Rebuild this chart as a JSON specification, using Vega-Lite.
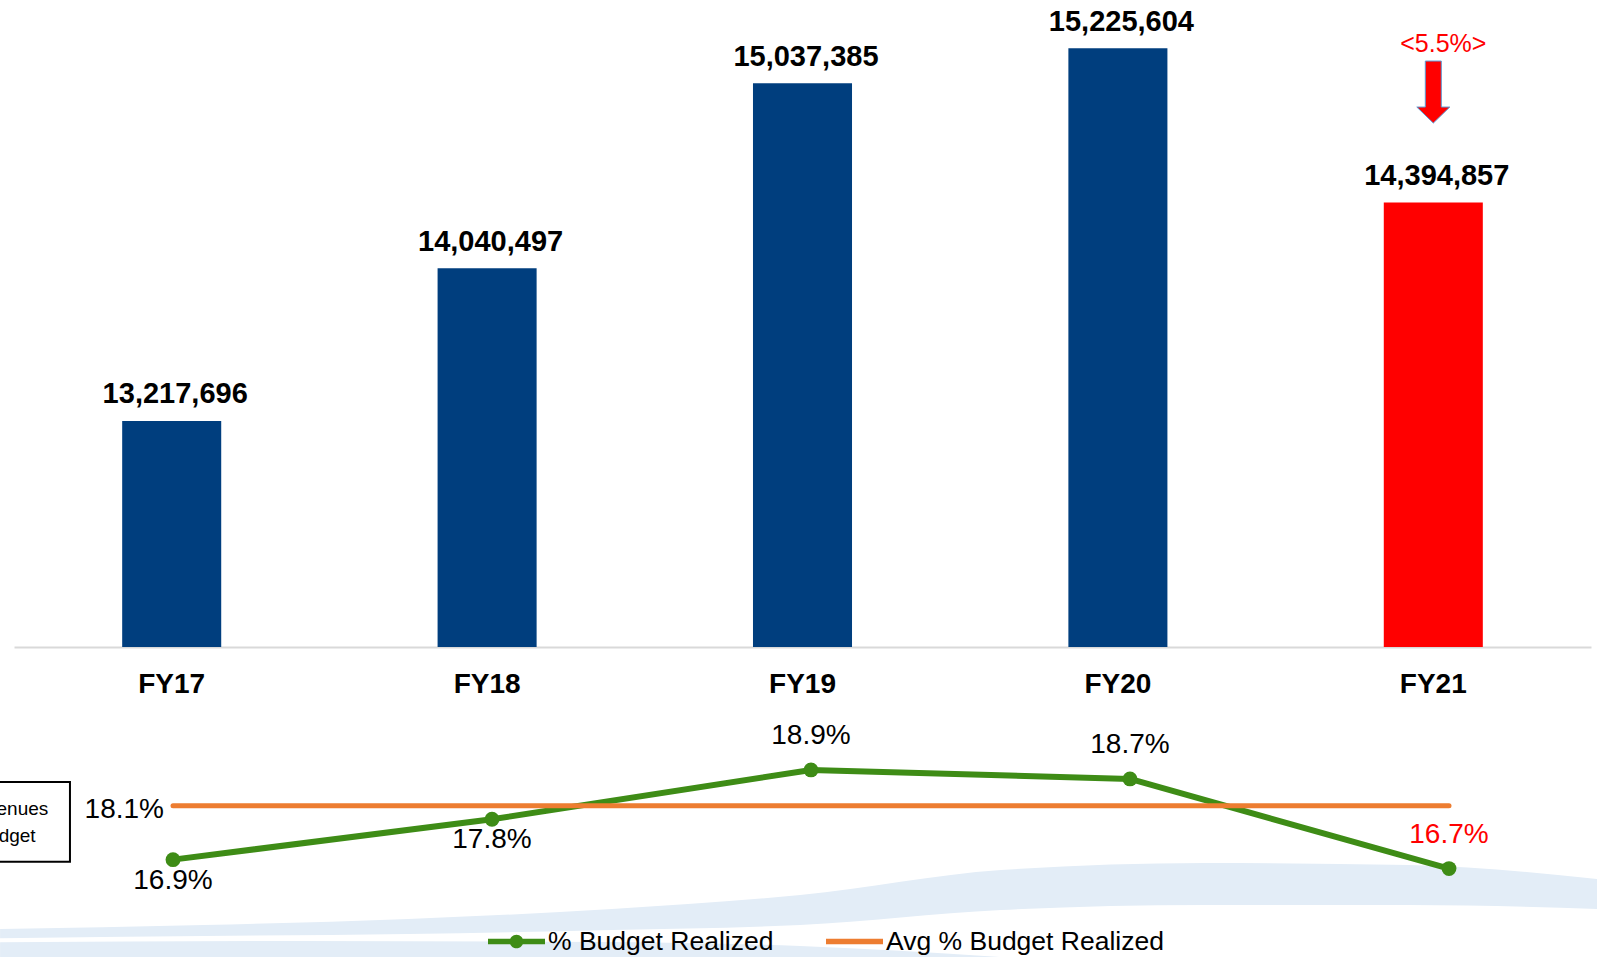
{
  "$schema": "https://vega.github.io/schema/vega-lite/v6.json",
  "padding": 0,
  "background": "white",
  "bounds": "flush",
  "spacing": 96,
  "config": {
    "view": {"stroke": null},
    "font": "Liberation Sans",
    "text": {"font": "Liberation Sans"}
  },
  "datasets": {
    "bars": [
      {"FY": "FY17", "value": 13217696},
      {"FY": "FY18", "value": 14040497},
      {"FY": "FY19", "value": 15037385},
      {"FY": "FY20", "value": 15225604},
      {"FY": "FY21", "value": 14394857}
    ],
    "pct": [
      {"series": "% Budget Realized", "FY": "FY17", "year": 2017, "value": 0.169},
      {"series": "% Budget Realized", "FY": "FY18", "year": 2018, "value": 0.178},
      {"series": "% Budget Realized", "FY": "FY19", "year": 2019, "value": 0.189},
      {"series": "% Budget Realized", "FY": "FY20", "year": 2020, "value": 0.187},
      {"series": "% Budget Realized", "FY": "FY21", "year": 2021, "value": 0.167},
      {"series": "Avg % Budget Realized", "FY": "FY17", "year": 2017, "value": 0.181},
      {"series": "Avg % Budget Realized", "FY": "FY18", "year": 2018, "value": 0.181},
      {"series": "Avg % Budget Realized", "FY": "FY19", "year": 2019, "value": 0.181},
      {"series": "Avg % Budget Realized", "FY": "FY20", "year": 2020, "value": 0.181},
      {"series": "Avg % Budget Realized", "FY": "FY21", "year": 2021, "value": 0.181}
    ],
    "wave1": [
      {"x": 2016.458, "top": 0.15354, "bottom": 0.15150},
      {"x": 2017.097, "top": 0.15443, "bottom": 0.15198},
      {"x": 2017.737, "top": 0.15577, "bottom": 0.15243},
      {"x": 2018.376, "top": 0.15800, "bottom": 0.15332},
      {"x": 2018.966, "top": 0.16112, "bottom": 0.15443},
      {"x": 2019.596, "top": 0.16669, "bottom": 0.15778},
      {"x": 2020.235, "top": 0.16825, "bottom": 0.15889},
      {"x": 2020.875, "top": 0.16781, "bottom": 0.15889},
      {"x": 2021.464, "top": 0.16469, "bottom": 0.15800}
    ],
    "wave2": [
      {"x": 2016.458, "top": 0.15060, "bottom": 0.1473},
      {"x": 2017.398, "top": 0.15087, "bottom": 0.1473},
      {"x": 2018.339, "top": 0.15064, "bottom": 0.1473},
      {"x": 2018.966, "top": 0.14975, "bottom": 0.1473},
      {"x": 2019.592, "top": 0.1473, "bottom": 0.1473}
    ]
  },
  "vconcat": [
    {
      "width": 1597,
      "height": 647,
      "data": {"name": "bars"},
      "encoding": {
        "x": {
          "field": "FY",
          "type": "nominal",
          "sort": null,
          "scale": {"range": [14, 1591], "paddingInner": 0.686, "paddingOuter": 0.343},
          "axis": {
            "title": null,
            "labelAngle": 0,
            "labelFont": "Liberation Sans",
            "labelFontSize": 28,
            "labelFontWeight": "bold",
            "labelColor": "black",
            "ticks": false,
            "tickSize": 0,
            "labelPadding": 23,
            "domainColor": "#d9d9d9",
            "domainWidth": 2
          }
        }
      },
      "layer": [
        {
          "mark": {"type": "bar", "clip": true},
          "encoding": {
            "y": {"field": "value", "type": "quantitative", "scale": {"domain": [12000000, 15486000], "zero": false, "nice": false}, "axis": null},
            "y2": {"datum": 12000000},
            "color": {"condition": {"test": "datum.FY === 'FY21'", "value": "#ff0000"}, "value": "#003e7e"}
          }
        },
        {
          "mark": {"type": "text", "fontSize": 29, "fontWeight": "bold", "dy": -17.6, "dx": 3.5, "baseline": "alphabetic", "align": "center", "color": "black"},
          "encoding": {
            "y": {"field": "value", "type": "quantitative"},
            "text": {"field": "value", "type": "quantitative", "format": ",d"}
          }
        },
        {
          "data": {"values": [{"note": "arrow"}]},
          "mark": {"type": "point", "shape": "M-0.258,-1L0.258,-1L0.258,0.484L0.532,0.484L0,1L-0.532,0.484L-0.258,0.484Z", "size": 3844, "filled": true, "color": "#ff0000", "stroke": "#5b9bd5", "strokeWidth": 1, "opacity": 1},
          "encoding": {
            "x": {"datum": "FY21"},
            "y": {"datum": 14990000}
          }
        },
        {
          "data": {"values": [{"note": "<5.5%>"}]},
          "mark": {"type": "text", "fontSize": 25, "color": "#ff0000", "dx": 10, "baseline": "alphabetic", "align": "center"},
          "encoding": {
            "x": {"datum": "FY21"},
            "y": {"datum": 15207000},
            "text": {"field": "note"}
          }
        }
      ]
    },
    {
      "width": 1597,
      "height": 214,
      "data": {"name": "pct"},
      "layer": [
        {
          "data": {"name": "wave1"},
          "mark": {"type": "area", "interpolate": "monotone", "color": "#e3edf7", "clip": true},
          "encoding": {
            "x": {"field": "x", "type": "quantitative", "scale": {"domain": [2017, 2021], "range": [173, 1449], "zero": false, "nice": false}, "axis": null},
            "y": {"field": "top", "type": "quantitative", "scale": {"domain": [0.1473, 0.195], "zero": false, "nice": false}, "axis": null},
            "y2": {"field": "bottom"}
          }
        },
        {
          "data": {"name": "wave2"},
          "mark": {"type": "area", "interpolate": "monotone", "color": "#e3edf7", "clip": true},
          "encoding": {
            "x": {"field": "x", "type": "quantitative"},
            "y": {"field": "top", "type": "quantitative"},
            "y2": {"field": "bottom"}
          }
        },
        {
          "data": {"values": [{"note": "box"}]},
          "mark": {"type": "rect", "fill": "white", "stroke": "black", "strokeWidth": 2, "clip": true},
          "encoding": {
            "x": {"datum": 2016.30},
            "x2": {"datum": 2016.677},
            "y": {"datum": 0.18631},
            "y2": {"datum": 0.16854}
          }
        },
        {
          "data": {"values": [{"note": "box"}]},
          "mark": {"type": "text", "fontSize": 19, "lineHeight": 27, "align": "center", "baseline": "alphabetic", "color": "black", "clip": true},
          "encoding": {
            "x": {"datum": 2016.475},
            "y": {"datum": 0.17895},
            "text": {"value": ["Revenues", "Budget"]}
          }
        },
        {
          "transform": [{"filter": "datum.series === '% Budget Realized'"}],
          "mark": {"type": "line", "strokeWidth": 6, "strokeCap": "round", "strokeJoin": "round"},
          "encoding": {
            "x": {"field": "year", "type": "quantitative"},
            "y": {"field": "value", "type": "quantitative"},
            "color": {
              "field": "series",
              "type": "nominal",
              "scale": {"domain": ["% Budget Realized", "Avg % Budget Realized"], "range": ["#3e8c16", "#ed7d31"]},
              "legend": {
                "orient": "none",
                "legendX": 488,
                "legendY": 913,
                "direction": "horizontal",
                "columns": 2,
                "title": null,
                "padding": 0,
                "symbolSize": 3249,
                "labelFont": "Liberation Sans",
                "labelFontSize": 26.5,
                "labelColor": "black",
                "labelOffset": 3,
                "labelLimit": 500,
                "columnPadding": 52,
                "encode": {
                  "symbols": {
                    "update": {
                      "shape": {"signal": "datum.value === '% Budget Realized' ? 'M-1,-0.1L1,-0.1L1,0.1L-1,0.1Z M0.24,0A0.24,0.24 0 1,1 -0.24,0A0.24,0.24 0 1,1 0.24,0Z' : 'M-1,-0.1L1,-0.1L1,0.1L-1,0.1Z'"},
                      "fill": {"signal": "datum.value === '% Budget Realized' ? '#3e8c16' : '#ed7d31'"},
                      "stroke": {"value": "transparent"},
                      "strokeWidth": {"value": 0},
                      "opacity": {"value": 1}
                    }
                  }
                }
              }
            }
          }
        },
        {
          "transform": [{"filter": "datum.series === '% Budget Realized'"}],
          "mark": {"type": "point", "filled": true, "size": 220, "color": "#3e8c16", "opacity": 1},
          "encoding": {
            "x": {"field": "year", "type": "quantitative"},
            "y": {"field": "value", "type": "quantitative"}
          }
        },
        {
          "transform": [{"filter": "datum.series === 'Avg % Budget Realized'"}],
          "mark": {"type": "line", "strokeWidth": 5, "strokeCap": "round"},
          "encoding": {
            "x": {"field": "year", "type": "quantitative"},
            "y": {"field": "value", "type": "quantitative"},
            "color": {"field": "series", "type": "nominal"}
          }
        },
        {
          "transform": [{"filter": "datum.series === '% Budget Realized' && (datum.FY === 'FY17' || datum.FY === 'FY18')"}],
          "mark": {"type": "text", "fontSize": 28, "dy": 29, "baseline": "alphabetic", "align": "center", "color": "black"},
          "encoding": {
            "x": {"field": "year", "type": "quantitative"},
            "y": {"field": "value", "type": "quantitative"},
            "text": {"field": "value", "type": "quantitative", "format": ".1%"}
          }
        },
        {
          "transform": [{"filter": "datum.series === '% Budget Realized' && datum.FY !== 'FY17' && datum.FY !== 'FY18'"}],
          "mark": {"type": "text", "fontSize": 28, "dy": -26, "baseline": "alphabetic", "align": "center"},
          "encoding": {
            "x": {"field": "year", "type": "quantitative"},
            "y": {"field": "value", "type": "quantitative"},
            "text": {"field": "value", "type": "quantitative", "format": ".1%"},
            "color": {"condition": {"test": "datum.FY === 'FY21'", "value": "#ff0000"}, "value": "black"}
          }
        },
        {
          "transform": [{"filter": "datum.series === 'Avg % Budget Realized' && datum.FY === 'FY17'"}],
          "mark": {"type": "text", "fontSize": 28, "dx": -9, "dy": 12, "baseline": "alphabetic", "align": "right", "color": "black"},
          "encoding": {
            "x": {"field": "year", "type": "quantitative"},
            "y": {"field": "value", "type": "quantitative"},
            "text": {"field": "value", "type": "quantitative", "format": ".1%"}
          }
        }
      ]
    }
  ]
}
